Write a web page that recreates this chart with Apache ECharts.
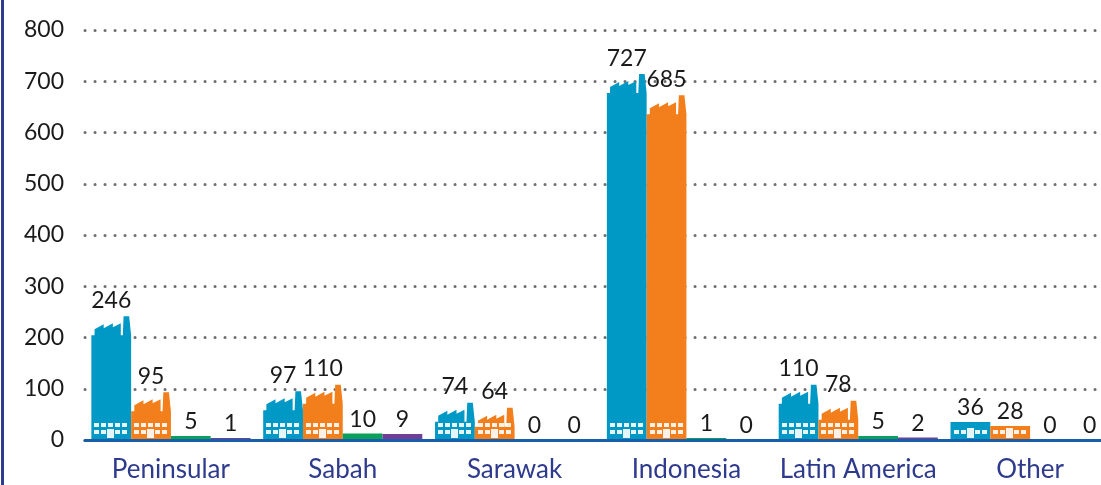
<!DOCTYPE html>
<html>
<head>
<meta charset="utf-8">
<style>
  html, body { margin: 0; padding: 0; background: #fff; }
  #chart { width: 1101px; height: 485px; }
</style>
</head>
<body>
<div id="chart"></div>
<script src="https://cdn.jsdelivr.net/npm/echarts@6/dist/echarts.min.js"></script>
<script>
const categories = ["Peninsular", "Sabah", "Sarawak", "Indonesia", "Latin America", "Other"];
const blueValues = [246, 97, 74, 727, 110, 36];
const orangeValues = [95, 110, 64, 685, 78, 28];
const greenValues = [5, 10, 0, 1, 5, 0];
const purpleValues = [1, 9, 0, 0, 2, 0];
const yTicks = [0, 100, 200, 300, 400, 500, 600, 700, 800];

const seriesList = [
  { name: "Blue", values: blueValues, color: "#0099c6", factory: true },
  { name: "Orange", values: orangeValues, color: "#f27f1b", factory: true },
  { name: "Green", values: greenValues, color: "#0a9f5a", factory: false },
  { name: "Purple", values: purpleValues, color: "#6f3f98", factory: false }
];

const FONT = "Lato, 'Open Sans', sans-serif";
const WINDOW = "rgba(255,255,255,0.9)";

// roof outline, x as share of bar width, y as px below the top of the building
const ROOF = [
  [0, 19], [0.08, 19], [0.08, 13], [0.31, 8], [0.31, 12], [0.54, 7], [0.54, 11],
  [0.74, 7], [0.74, 19], [0.79, 19], [0.81, 0], [0.95, 0], [1, 19]
];
const WINDOW_X = [3, 10, 17, 24, 31];

function rect(x, y, w, h, fill) {
  return { type: "rect", shape: { x, y, width: w, height: h }, style: { fill } };
}

function renderBar(seriesIndex, color, factory) {
  return function (params, api) {
    const idx = api.value(0);
    const val = api.value(1);
    const band = api.size([1, 0])[0];
    const w = band * 0.2315;
    const center = api.coord([idx, 0])[0];
    const x = center - 2 * w + seriesIndex * w;
    const xr = Math.round(x);
    const y0 = api.coord([idx, 0])[1];
    const yVal = api.coord([idx, val])[1];
    const children = [];
    let top = y0 - (y0 - yVal) * 0.982;
    let labelGap = 14;

    if (factory) {
      const h = y0 - top;
      if (h > 30) {
        const pts = ROOF.map((p) => [x + p[0] * w, top + p[1]]);
        pts.push([x + w, y0], [x, y0]);
        children.push({ type: "polygon", shape: { points: pts }, style: { fill: color } });
        WINDOW_X.forEach((f, i) => {
          children.push(rect(xr + f, y0 - 17, 5, 4, WINDOW));
          if (i !== 2) children.push(rect(xr + f, y0 - 10, 5, 4, WINDOW));
        });
        children.push(rect(xr + 16, y0 - 11, 7, 9, WINDOW));
        labelGap = 16;
      } else {
        children.push(rect(x, top, w, h, color));
        WINDOW_X.forEach((f, i) => {
          if (i !== 2) children.push(rect(xr + f, y0 - 10, 5, 4, WINDOW));
        });
        children.push(rect(xr + 16, y0 - 12, 7, 10, WINDOW));
      }
    } else if (val > 0) {
      top = yVal - 1.5;
      children.push(rect(x, top, w, y0 - top, color));
    }

    children.push({
      type: "text",
      style: {
        text: String(val),
        x: x + w / 2,
        y: (val > 0 ? top : y0) - labelGap,
        align: "center",
        verticalAlign: "middle",
        fill: "#1a1a1a",
        font: "400 23px " + FONT
      }
    });
    return { type: "group", children };
  };
}

const chart = echarts.init(document.getElementById("chart"), null, { renderer: "canvas" });

chart.setOption({
  animation: false,
  backgroundColor: "#fff",
  grid: { left: 85, top: 30, width: 1031, height: 410, containLabel: false, outerBoundsMode: "none" },
  graphic: [
    { type: "rect", left: 1, top: 0, shape: { width: 3, height: 485 }, style: { fill: "#2e3a8c" } }
  ],
  xAxis: {
    type: "category",
    data: categories,
    z: 5,
    axisTick: { show: false },
    axisLine: { lineStyle: { color: "#1a5ea8", width: 3 } },
    axisLabel: { color: "#2e3a8c", fontFamily: FONT, fontSize: 26, margin: 17, interval: 0 }
  },
  yAxis: {
    type: "value",
    min: yTicks[0],
    max: yTicks[yTicks.length - 1],
    interval: 100,
    axisLine: { show: false },
    axisTick: { show: false },
    axisLabel: { color: "#1a1a1a", fontFamily: FONT, fontSize: 23, margin: 21 },
    splitLine: {
      show: true,
      lineStyle: { color: "#707070", width: 3, type: [0.1, 9.9], cap: "round" }
    }
  },
  series: seriesList.map((s, i) => ({
    type: "custom",
    name: s.name,
    data: s.values.map((v, c) => [c, v]),
    encode: { x: 0, y: 1 },
    clip: false,
    renderItem: renderBar(i, s.color, s.factory)
  }))
});
</script>
</body>
</html>
